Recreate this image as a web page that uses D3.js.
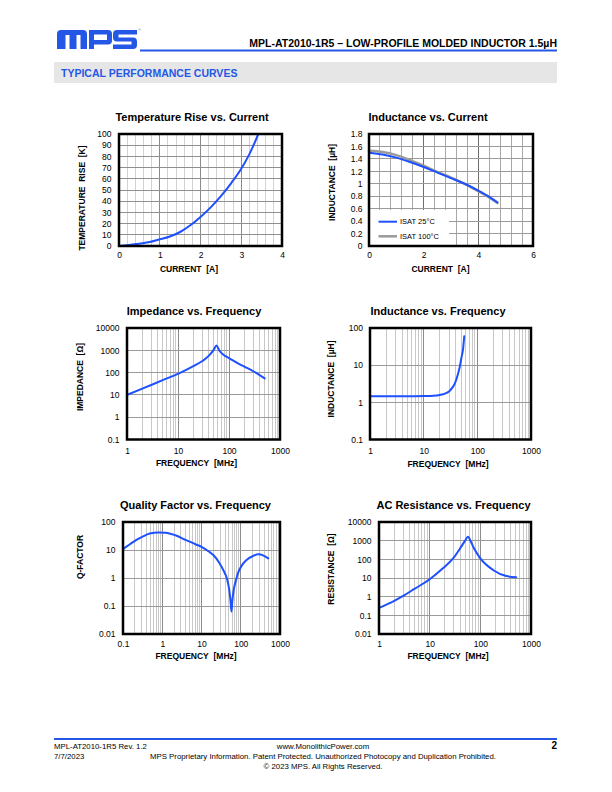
<!DOCTYPE html>
<html><head><meta charset="utf-8">
<script src="https://cdn.jsdelivr.net/npm/d3@7"></script>
<style>html,body{margin:0;padding:0;background:#fff;}svg{display:block;}</style>
</head><body>
<svg id="page" width="612" height="792"></svg>
<script>
// ---------- DATA ----------
const tempCurrent = [0, 0.25, 0.5, 0.75, 1, 1.25, 1.5, 1.75, 2, 2.25, 2.5, 2.75, 3, 3.2, 3.42];
const tempRise    = [0, 1, 2, 3.5, 6, 8.5, 12.5, 18.5, 26, 34.5, 44.5, 56, 69, 82, 100];

const indCurrent  = [0, 0.5, 1, 1.5, 2, 2.5, 3, 3.5, 4, 4.4, 4.7];
const isat25      = [1.50, 1.47, 1.42, 1.35, 1.27, 1.18, 1.09, 1.00, 0.89, 0.79, 0.70];
const isat100     = [1.53, 1.51, 1.46, 1.38, 1.29, 1.19, 1.10, 1.00, 0.88, 0.78, 0.69];

const impFreq     = [1, 2, 5, 10, 20, 30, 40, 50, 57, 65, 80, 100, 150, 200, 300, 500];
const impedance   = [10, 19, 46, 88, 195, 330, 560, 1050, 1650, 950, 600, 450, 260, 185, 115, 55];

const lFreq       = [1, 5, 10, 15, 20, 25, 30, 35, 38, 42, 47, 51, 54, 57];
const inductanceF = [1.45, 1.45, 1.47, 1.5, 1.58, 1.72, 2.0, 2.6, 3.2, 4.8, 9, 17, 26, 60];

const qFreq       = [0.1, 0.15, 0.22, 0.3, 0.48, 0.8, 1.2, 1.6, 2.5, 3.4, 5, 7, 10, 15, 20, 28, 36, 45, 51, 55, 58, 61, 66, 75, 85, 110, 140, 200, 280, 380, 500];
const qFactor     = [10.8, 16, 23, 29, 39, 42, 41, 38, 31, 25, 20, 16, 13, 9, 6.6, 3.6, 1.9, 0.9, 0.37, 0.15, 0.063, 0.15, 0.37, 0.8, 1.5, 3, 4.4, 6, 7, 6.3, 5.0];

const acrFreq     = [1, 2, 3, 5, 10, 18, 29, 42, 50, 57, 65, 75, 100, 178, 325, 510];
const acResistance= [0.25, 0.6, 1.1, 2.6, 8.5, 32, 112, 480, 1000, 1630, 900, 390, 112, 27, 12.7, 11];

const tempXTicks  = [0, 1, 2, 3, 4];
const tempYTicks  = [0, 10, 20, 30, 40, 50, 60, 70, 80, 90, 100];
const indXTicks   = [0, 2, 4, 6];
const indYTicks   = [0, 0.2, 0.4, 0.6, 0.8, 1, 1.2, 1.4, 1.6, 1.8];
const freqTicks   = [1, 10, 100, 1000];
const qFreqTicks  = [0.1, 1, 10, 100, 1000];
const impYTicks   = [0.1, 1, 10, 100, 1000, 10000];
const lYTicks     = [0.1, 1, 10, 100];
const qYTicks     = [0.01, 0.1, 1, 10, 100];
const acrYTicks   = [0.01, 0.1, 1, 10, 100, 1000, 10000];
const legendLabels = ["ISAT 25°C", "ISAT 100°C"];

// ---------- STYLE ----------
const FONT = "'Liberation Sans', Arial, Helvetica, sans-serif";
const BLUE = "#1e50ff";
const BRAND = "#2457e6";
const GRAY_CURVE = "#9a9a9a";
const NB = "\u00a0";
const svg = d3.select("#page");

// ---------- HEADER ----------
const logo = svg.append("g").attr("fill", BRAND);
logo.append("path").attr("d", "M57,49 V34 Q57,30 61,30 H83 Q87,30 87,34 V49 H80.5 V35 H76.5 V49 H69.5 V35 H65.5 V49 Z");
logo.append("path").attr("d", "M89,49 V30 H108 Q112,30 112,34 V40.5 Q112,44.5 108,44.5 H94 V49 Z M94,34.5 V40 H107 V34.5 Z").attr("fill-rule", "evenodd");
logo.append("path").attr("d", "M117,30 H137 V34.5 H118.5 V37.5 H133 Q137,37.5 137,41.5 V45 Q137,49 133,49 H113 V44.5 H131.5 V41.5 H117 Q113,41.5 113,37.5 V34 Q113,30 117,30 Z");
svg.append("text").attr("x", 138.5).attr("y", 31).attr("font-size", 3).attr("font-family", FONT).attr("fill", BRAND).text("®");
svg.append("rect").attr("x", 140).attr("y", 49.5).attr("width", 417).attr("height", 2).attr("fill", BRAND);
svg.append("text").attr("x", 557).attr("y", 46.5).attr("text-anchor", "end")
  .attr("font-family", FONT).attr("font-weight", "bold").attr("font-size", 10.5).attr("fill", "#000")
  .text("MPL-AT2010-1R5 – LOW-PROFILE MOLDED INDUCTOR 1.5µH");
svg.append("rect").attr("x", 54).attr("y", 62).attr("width", 503).attr("height", 21).attr("fill", "#e6e6e6");
svg.append("text").attr("x", 61).attr("y", 77).attr("font-family", FONT).attr("font-weight", "bold")
  .attr("font-size", 10.5).attr("fill", BRAND).text("TYPICAL PERFORMANCE CURVES");

// ---------- FOOTER ----------
svg.append("rect").attr("x", 54).attr("y", 738).attr("width", 503).attr("height", 2).attr("fill", BRAND);
function ftxt(x, y, t, anchor, size, weight) {
  svg.append("text").attr("x", x).attr("y", y).attr("text-anchor", anchor || "start")
    .attr("font-family", FONT).attr("font-size", size || 7.8).attr("font-weight", weight || "normal")
    .attr("fill", "#000").text(t);
}
ftxt(54, 748.5, "MPL-AT2010-1R5 Rev. 1.2");
ftxt(323, 748.5, "www.MonolithicPower.com", "middle");
ftxt(557, 749, "2", "end", 10, "bold");
ftxt(54, 759, "7/7/2023");
ftxt(323, 759, "MPS Proprietary Information. Patent Protected. Unauthorized Photocopy and Duplication Prohibited.", "middle");
ftxt(323, 768.5, "© 2023 MPS. All Rights Reserved.", "middle");

// ---------- CHART FACTORY ----------
function chart(c) {
  const g = svg.append("g");
  const [bx0, bx1, by0, by1] = c.box;
  const x = (c.xlog ? d3.scaleLog() : d3.scaleLinear()).domain(c.xdom).range([bx0, bx1]);
  const y = (c.ylog ? d3.scaleLog() : d3.scaleLinear()).domain(c.ydom).range([by1, by0]);

  const grid = g.append("g").attr("shape-rendering", "crispEdges");
  const isPow = v => Math.abs(Math.log10(v) - Math.round(Math.log10(v))) < 1e-9;
  let vMinor, vMajor;
  if (c.xlog) { const t = x.ticks(); vMinor = t.filter(v => !isPow(v)); vMajor = t.filter(isPow); }
  else { vMinor = d3.range(c.xdom[0], c.xdom[1] + 1e-9, c.xMinorStep); vMajor = c.xTicks; }
  const hMajor = c.yTicks;

  grid.selectAll(".vmin").data(vMinor).join("line")
    .attr("x1", d => x(d)).attr("x2", d => x(d)).attr("y1", by0).attr("y2", by1)
    .attr("stroke", c.vMinorColor || "#c8c8c8").attr("stroke-width", 1);
  grid.selectAll(".vmaj").data(vMajor).join("line")
    .attr("x1", d => x(d)).attr("x2", d => x(d)).attr("y1", by0).attr("y2", by1)
    .attr("stroke", c.vMajorColor || "#8c8c8c").attr("stroke-width", 1);
  grid.selectAll(".hmaj").data(hMajor).join("line")
    .attr("x1", bx0).attr("x2", bx1).attr("y1", d => y(d)).attr("y2", d => y(d))
    .attr("stroke", c.hColor || "#9a9a9a").attr("stroke-width", 1);

  if (c.legendBox) {
    const lb = c.legendBox;
    g.append("rect").attr("x", lb[0]).attr("y", lb[1]).attr("width", lb[2]).attr("height", lb[3]).attr("fill", "#fff");
  }

  const line = d3.line().x(d => x(d[0])).y(d => y(d[1])).curve(d3.curveMonotoneX);
  c.series.forEach(s => {
    g.append("path").datum(d3.zip(s.x, s.y)).attr("d", line)
      .attr("fill", "none").attr("stroke", s.color).attr("stroke-width", s.width || 2)
      .attr("stroke-linejoin", "round").attr("stroke-linecap", "round");
  });

  if (c.legend) {
    c.legend.forEach((l, i) => {
      const ly = c.legendY[i];
      g.append("line").attr("x1", c.legendX[0]).attr("x2", c.legendX[1]).attr("y1", ly).attr("y2", ly)
        .attr("stroke", l.color).attr("stroke-width", l.width || 2);
      g.append("text").attr("x", c.legendX[1] + 3).attr("y", ly + 2.7).attr("font-family", FONT)
        .attr("font-size", 7.5).attr("fill", "#000").text(l.label);
    });
  }

  g.append("rect").attr("x", bx0).attr("y", by0).attr("width", bx1 - bx0).attr("height", by1 - by0)
    .attr("fill", "none").attr("stroke", "#000").attr("stroke-width", 2.5);

  const fmt = v => String(+v.toFixed(2));
  const ax = g.append("g").attr("transform", `translate(0,${by1})`)
    .call(d3.axisBottom(x).tickValues(c.xTicks).tickFormat(fmt).tickSize(0).tickPadding(c.xPad));
  ax.select(".domain").remove();
  ax.attr("font-family", FONT).attr("font-size", 8.5);
  const ay = g.append("g").attr("transform", `translate(${bx0},0)`)
    .call(d3.axisLeft(y).tickValues(c.yTicks).tickFormat(fmt).tickSize(0).tickPadding(c.yPad));
  ay.select(".domain").remove();
  ay.attr("font-family", FONT).attr("font-size", 8.5);
  g.selectAll(".tick text").attr("fill", "#000");

  g.append("text").attr("x", c.titleX).attr("y", c.titleY).attr("text-anchor", "middle")
    .attr("font-family", FONT).attr("font-weight", "bold").attr("font-size", 11).text(c.title);
  g.append("text").attr("x", c.xTitleX).attr("y", c.xTitleY).attr("text-anchor", "middle")
    .attr("font-family", FONT).attr("font-weight", "bold").attr("font-size", 8.5)
    .text(c.xTitle.replace(/ /g, NB));
  g.append("text").attr("transform", `translate(${c.yTitleX},${c.yTitleY}) rotate(-90)`)
    .attr("text-anchor", "middle").attr("dy", "0.35em")
    .attr("font-family", FONT).attr("font-weight", "bold").attr("font-size", 8.5)
    .text(c.yTitle.replace(/ /g, NB));
}

chart({
  box: [119, 282, 134, 246], xdom: [0, 4], ydom: [0, 100], xMinorStep: 0.2,
  xTicks: tempXTicks, yTicks: tempYTicks, xPad: 6, yPad: 7.5,
  vMinorColor: "#d2d2d2", vMajorColor: "#8a8a8a", hColor: "#8f8f8f",
  series: [{ x: tempCurrent, y: tempRise, color: BLUE }],
  title: "Temperature Rise vs. Current", titleX: 192, titleY: 120.5,
  xTitle: "CURRENT  [A]", xTitleX: 189, xTitleY: 271.5,
  yTitle: "TEMPERATURE  RISE  [K]", yTitleX: 82.5, yTitleY: 198
});

chart({
  box: [369, 533, 134, 246], xdom: [0, 6], ydom: [0, 1.8], xMinorStep: 0.4,
  xTicks: indXTicks, yTicks: indYTicks, xPad: 6, yPad: 6.5,
  vMinorColor: "#a8a8a8", vMajorColor: "#6e6e6e", hColor: "#9a9a9a",
  legendBox: [370, 210, 79, 35],
  series: [{ x: indCurrent, y: isat100, color: GRAY_CURVE, width: 2.5 }, { x: indCurrent, y: isat25, color: BLUE }],
  legend: [{ label: legendLabels[0], color: BLUE }, { label: legendLabels[1], color: GRAY_CURVE, width: 2.5 }],
  legendX: [378.5, 397], legendY: [221.7, 236.3],
  title: "Inductance vs. Current", titleX: 428, titleY: 120.5,
  xTitle: "CURRENT  [A]", xTitleX: 440.5, xTitleY: 271.5,
  yTitle: "INDUCTANCE  [µH]", yTitleX: 332.5, yTitleY: 182.5
});

chart({
  box: [127, 280, 328, 439.5], xlog: true, ylog: true, xdom: [1, 1000], ydom: [0.1, 10000],
  xTicks: freqTicks, yTicks: impYTicks, xPad: 8.5, yPad: 7.5,
  series: [{ x: impFreq, y: impedance, color: BLUE }],
  title: "Impedance vs. Frequency", titleX: 194, titleY: 315,
  xTitle: "FREQUENCY  [MHz]", xTitleX: 196.5, xTitleY: 466,
  yTitle: "IMPEDANCE  [Ω]", yTitleX: 80, yTitleY: 377
});

chart({
  box: [370, 531, 328, 439.5], xlog: true, ylog: true, xdom: [1, 1000], ydom: [0.1, 100],
  xTicks: freqTicks, yTicks: lYTicks, xPad: 8.5, yPad: 7,
  series: [{ x: lFreq, y: inductanceF, color: BLUE }],
  title: "Inductance vs. Frequency", titleX: 438, titleY: 315,
  xTitle: "FREQUENCY  [MHz]", xTitleX: 448, xTitleY: 466.5,
  yTitle: "INDUCTANCE  [µH]", yTitleX: 331.5, yTitleY: 379
});

chart({
  box: [123, 280, 522, 634], xlog: true, ylog: true, xdom: [0.1, 1000], ydom: [0.01, 100],
  xTicks: qFreqTicks, yTicks: qYTicks, xPad: 7, yPad: 7.5,
  series: [{ x: qFreq, y: qFactor, color: BLUE }],
  title: "Quality Factor vs. Frequency", titleX: 195.5, titleY: 508.5,
  xTitle: "FREQUENCY  [MHz]", xTitleX: 196, xTitleY: 658.5,
  yTitle: "Q-FACTOR", yTitleX: 80.5, yTitleY: 557
});

chart({
  box: [379, 531, 522, 634], xlog: true, ylog: true, xdom: [1, 1000], ydom: [0.01, 10000],
  xTicks: freqTicks, yTicks: acrYTicks, xPad: 7, yPad: 7.5,
  series: [{ x: acrFreq, y: acResistance, color: BLUE }],
  title: "AC Resistance vs. Frequency", titleX: 453.5, titleY: 508.5,
  xTitle: "FREQUENCY  [MHz]", xTitleX: 448, xTitleY: 659,
  yTitle: "RESISTANCE  [Ω]", yTitleX: 331.5, yTitleY: 569
});
</script>
</body></html>
